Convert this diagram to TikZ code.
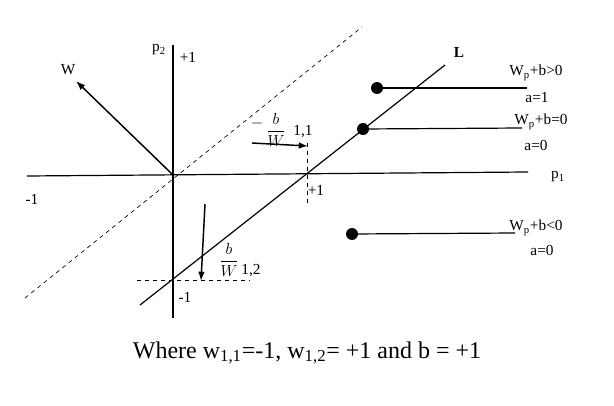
\documentclass[tikz,border=0pt]{standalone}
\usepackage{fontspec}
\setmainfont{Liberation Serif}
\usetikzlibrary{arrows.meta}
\begin{document}
\begin{tikzpicture}[x=0.75pt,y=-0.75pt,line width=0.9pt,
  lbl/.style={font=\fontsize{11.5}{13}\selectfont,inner sep=0pt},
  dot/.style={circle,fill=black,inner sep=0pt,minimum width=9pt,minimum height=7pt},
  arr/.style={-{Latex[length=7pt,width=5pt]},line width=1.1pt}]
  \useasboundingbox (0,0) rectangle (614,406);
  % axes and lines
  \coordinate (o) at (173,175);
  \coordinate (xa) at (27,176);
  \coordinate (xb) at (528,172);
  \coordinate (ya) at (173,45);
  \coordinate (yb) at (173,318);
  \draw (xa) -- (xb);
  \draw (ya) -- (yb);
  \coordinate (la) at (140,305);
  \coordinate (lb) at (445,65);
  \draw (la) -- (lb);
  \coordinate (da) at (25,298);
  \coordinate (db) at (362,27);
  \draw[dashed,line width=0.5pt] (da) -- (db);
  \coordinate (w) at (76,81);
  \draw[arr] (o) -- (w);
  % intercepts
  \coordinate (i1t) at (307,143);
  \coordinate (i1b) at (307,205);
  \draw[dashed,line width=0.5pt] (i1t) -- (i1b);
  \coordinate (i2l) at (137,280);
  \coordinate (i2r) at (250,280);
  \draw[dashed,line width=0.5pt] (i2l) -- (i2r);
  \coordinate (h1) at (252,143);
  \coordinate (h2) at (308,146);
  \draw[arr] (h1) -- (h2);
  \coordinate (v1) at (205,204);
  \coordinate (v2) at (201,281);
  \draw[arr] (v1) -- (v2);
  % labels
  \node[lbl] (lw) at (68,70) {W};
  \node[lbl] (lp2) at (159,50) {p\textsubscript{2}};
  \node[lbl] (ly1) at (188,57) {+1};
  \node[lbl] (lxm) at (32,199) {-1};
  \node[lbl] (lp1) at (558,177) {p\textsubscript{1}};
  \node[lbl] (lx1) at (316,190) {+1};
  \node[lbl] (lym) at (185,297) {-1};
  \node[lbl,font=\fontsize{11.5}{13}\selectfont\bfseries] (ll) at (459,52) {L};
  \node[lbl] (lm) at (257,124) {$-$};
  \node[lbl,font=\fontsize{13}{15}\selectfont] (f1) at (276,130) {$\displaystyle\frac{b}{W}$};
  \node[lbl] (s1) at (303,132) {1,1};
  \node[lbl,font=\fontsize{13}{15}\selectfont] (f2) at (229,260) {$\displaystyle\frac{b}{W}$};
  \node[lbl] (s2) at (251,271) {1,2};
  % regions
  \node[dot] (d1) at (377,88) {};
  \coordinate (e1) at (527,88);
  \draw (d1.center) -- (e1);
  \node[dot] (d2) at (363,129) {};
  \coordinate (e2) at (522,128);
  \draw (d2.center) -- (e2);
  \node[dot] (d3) at (352,234) {};
  \coordinate (e3) at (515,233);
  \draw (d3.center) -- (e3);
  \node[lbl] (t1) at (536,73) {W\textsubscript{p}+b>0};
  \node[lbl] (a1) at (537,98) {a=1};
  \node[lbl] (t2) at (541,122) {W\textsubscript{p}+b=0};
  \node[lbl] (a2) at (536,145) {a=0};
  \node[lbl] (t3) at (536,228) {W\textsubscript{p}+b<0};
  \node[lbl] (a3) at (542,250) {a=0};
  \node[font=\fontsize{18}{21}\selectfont] (cap) at (307,353) {Where w\textsubscript{1,1}=-1, w\textsubscript{1,2}= +1 and b = +1};
\end{tikzpicture}
\end{document}
